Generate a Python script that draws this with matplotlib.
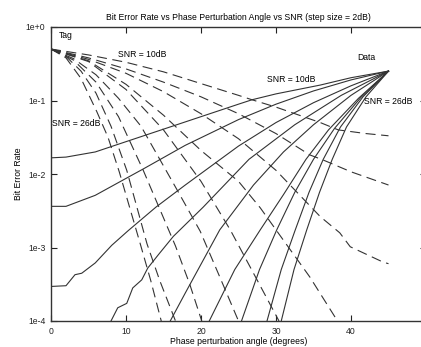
import numpy as np
import matplotlib.pyplot as plt

plt.rcParams['font.family'] = ['Liberation Sans', 'DejaVu Sans']

snr_db = [10, 12, 14, 16, 18, 20, 22, 24, 26]

# Tag BER (dashed), angle in degrees / log10(BER)
tag_x = [
    [0, 5, 10, 15, 17.2, 20, 25, 26.8, 30, 35.9, 38.3, 42, 45],
    [0, 5, 10, 15, 20, 25, 30, 34.5, 36.3, 40, 45],
    [0, 5, 10, 15, 20, 25, 30, 35.9, 38.5, 39.9, 44.3, 45],
    [0, 5, 10, 15, 20, 25, 27.9, 30, 34.5, 38.2],
    [0, 5, 10, 15, 20, 23.9, 27, 30.4],
    [0, 3, 6, 9, 12, 14.5, 17, 19.9, 22.5, 25],
    [0, 3, 6, 9, 12.3, 16.6, 18.5, 20.1],
    [0, 2, 4, 6, 8, 10.1, 12.8, 14.5, 16.6],
    [0, 2, 4, 6.1, 7.6, 9.1, 11.9, 13.3, 14.7],
]
tag_log = [
    [-0.30, -0.38, -0.48, -0.61, -0.68, -0.77, -0.93, -0.99, -1.09, -1.30, -1.40, -1.45, -1.48],
    [-0.30, -0.42, -0.57, -0.75, -0.95, -1.18, -1.45, -1.74, -1.81, -1.97, -2.15],
    [-0.30, -0.44, -0.63, -0.88, -1.18, -1.52, -1.95, -2.58, -2.80, -2.99, -3.20, -3.22],
    [-0.30, -0.46, -0.78, -1.20, -1.68, -2.10, -2.46, -2.76, -3.40, -4.0],
    [-0.30, -0.47, -0.85, -1.40, -2.10, -2.76, -3.35, -4.0],
    [-0.30, -0.43, -0.65, -0.97, -1.35, -1.80, -2.25, -2.78, -3.40, -4.0],
    [-0.30, -0.45, -0.75, -1.22, -1.95, -2.98, -3.50, -4.0],
    [-0.30, -0.40, -0.60, -0.90, -1.35, -1.95, -2.95, -3.45, -4.0],
    [-0.30, -0.42, -0.70, -1.15, -1.50, -1.97, -2.95, -3.45, -4.0],
]

# Data BER (solid)
data_x = [
    [0, 2, 5.9, 10, 15, 20, 25, 26.8, 30, 35.9, 40, 45],
    [0, 2, 5.9, 10, 12.5, 17.9, 25, 30, 35, 40, 45],
    [0, 2, 3.2, 4.1, 5.9, 8.1, 10.3, 14, 17.9, 25, 30, 35, 40, 45],
    [8, 8.9, 10.1, 10.9, 12.1, 12.9, 14.3, 16.3, 20.3, 26.4, 32.5, 38.7, 45],
    [15.9, 17.9, 22.5, 27.0, 31.0, 35.0, 40.0, 45],
    [21.1, 24.5, 27.9, 31.0, 34.0, 37.0, 41.0, 45],
    [25.4, 27.8, 30.1, 32.5, 35.0, 37.8, 41.3, 45],
    [28.8, 30.7, 32.5, 34.4, 36.3, 38.6, 41.6, 45],
    [30.7, 32.4, 34.1, 35.8, 37.5, 39.4, 42.0, 45],
]
data_log = [
    [-1.78, -1.77, -1.70, -1.56, -1.39, -1.22, -1.05, -0.99, -0.91, -0.79, -0.69, -0.60],
    [-2.44, -2.44, -2.29, -2.06, -1.92, -1.61, -1.26, -1.05, -0.87, -0.72, -0.60],
    [-3.53, -3.52, -3.37, -3.35, -3.21, -2.97, -2.77, -2.45, -2.15, -1.62, -1.30, -1.03, -0.80, -0.60],
    [-4.0, -3.82, -3.76, -3.55, -3.44, -3.28, -3.10, -2.85, -2.45, -1.80, -1.33, -0.93, -0.60],
    [-4.0, -3.62, -2.76, -2.15, -1.70, -1.33, -0.93, -0.60],
    [-4.0, -3.30, -2.76, -2.28, -1.80, -1.40, -0.97, -0.60],
    [-4.0, -3.30, -2.76, -2.25, -1.80, -1.38, -0.96, -0.60],
    [-4.0, -3.30, -2.78, -2.25, -1.80, -1.36, -0.95, -0.60],
    [-4.0, -3.30, -2.76, -2.25, -1.80, -1.36, -0.95, -0.60],
]

fig = plt.figure(figsize=(4.21, 3.47), dpi=100)
ax = fig.add_axes([51 / 421, 26 / 347, 375 / 421, 294 / 347])

for xs, ls in zip(tag_x, tag_log):
    ax.plot(xs, 10.0 ** np.array(ls), color='#333333', linewidth=0.8,
            linestyle=(0, (9, 5)))
for xs, ls in zip(data_x, data_log):
    ax.plot(xs, 10.0 ** np.array(ls), color='#333333', linewidth=0.8)

ax.set_yscale('log')
ax.set_xlim(0, 50)
ax.set_ylim(1e-4, 1)
ax.set_xticks([0, 10, 20, 30, 40, 50])
ax.set_xticklabels(['0', '10', '20', '30', '40', '50'])
ax.set_yticks([1e-4, 1e-3, 1e-2, 1e-1, 1])
ax.set_yticklabels(['1e-4', '1e-3', '1e-2', '1e-1', '1e+0'])
ax.minorticks_off()
ax.tick_params(direction='in', top=True, right=True, length=4, width=0.8,
               labelsize=6.2, pad=4, colors='#222222')
for s in ax.spines.values():
    s.set_linewidth(1.0)
    s.set_color('#333333')

ax.set_title('Bit Error Rate vs Phase Perturbation Angle vs SNR (step size = 2dB)',
             fontsize=6.2, pad=5)
ax.set_xlabel('Phase perturbation angle (degrees)', fontsize=6.2, labelpad=1)
ax.set_ylabel('Bit Error Rate', fontsize=6.2, labelpad=2)

fs = 6.2
ax.text(1.0, 10 ** -0.12, 'Tag', fontsize=fs, va='center')
ax.text(9.0, 10 ** -0.38, 'SNR = 10dB', fontsize=fs, va='center')
ax.text(0.2, 10 ** -1.31, 'SNR = 26dB', fontsize=fs, va='center')
ax.text(28.8, 10 ** -0.71, 'SNR = 10dB', fontsize=fs, va='center')
ax.text(40.8, 10 ** -0.42, 'Data', fontsize=fs, va='center')
ax.text(41.8, 10 ** -1.02, 'SNR = 26dB', fontsize=fs, va='center')

fig.savefig('out.png')
